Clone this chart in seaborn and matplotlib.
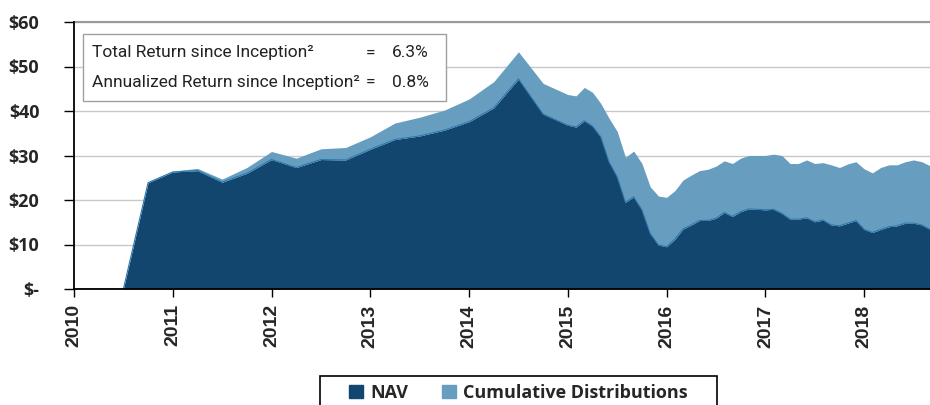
import matplotlib.pyplot as plt
import numpy as np
import pandas as pd
import seaborn as sns
from matplotlib.patches import Patch, Rectangle

# quarterly points until end of 2014, monthly afterwards
quarters = pd.date_range("2010-01-01", "2014-10-01", freq="QS")
months = pd.date_range("2015-01-01", "2018-09-01", freq="MS")
dates = quarters.append(months)

nav = [0, 0, 0, 23.9, 26.3, 26.6, 24.0, 26.0, 29.1, 27.3,
       29.1, 29.0, 31.4, 33.6, 34.4, 35.7, 37.6, 40.7, 47.2, 39.3,
       36.8, 36.4, 37.8, 36.6, 34.2, 28.6, 25.2, 19.5, 20.7, 17.8,
       12.5, 9.9, 9.5, 11.2, 13.5, 14.4, 15.4, 15.4, 15.9, 17.2,
       16.3, 17.4, 18.0, 17.9, 17.8, 17.9, 17.0, 15.7, 15.7, 16.0,
       15.1, 15.5, 14.4, 14.2, 14.8, 15.4, 13.4, 12.7, 13.4, 14.0,
       14.2, 14.8, 14.8, 14.4, 13.4]
cum_dist = [0, 0, 0, 0.1, 0.2, 0.5, 0.7, 1.3, 1.8, 2.1,
            2.4, 2.8, 2.8, 3.7, 4.2, 4.5, 5.1, 5.9, 6.1, 6.9,
            6.9, 7.0, 7.5, 7.6, 7.5, 9.8, 10.2, 10.1, 10.3, 10.4,
            10.5, 11.0, 11.1, 10.9, 11.0, 11.2, 11.2, 11.5, 11.7, 11.6,
            11.9, 12.0, 12.0, 12.1, 12.2, 12.4, 13.0, 12.5, 12.5, 13.0,
            13.1, 12.9, 13.5, 13.1, 13.3, 13.2, 13.6, 13.4, 13.9, 13.9,
            13.7, 13.8, 14.2, 14.2, 14.3]

summary_labels = ["Total Return since Inception²", "Annualized Return since Inception²"]
summary_values = ["6.3%", "0.8%"]
year_ticks = list(range(2010, 2019))
y_ticks = [0, 10, 20, 30, 40, 50, 60]
y_labels = ["$-", "$10", "$20", "$30", "$40", "$50", "$60"]

dark = "#13466f"
light = "#679dbf"

df = pd.DataFrame({"year": dates.year + (dates.month - 1) / 12,
                   "NAV": nav, "Cumulative Distributions": cum_dist})
df["total"] = df["NAV"] + df["Cumulative Distributions"]

sns.set_style("white")
plt.rcParams["font.family"] = ["Open Sans", "DejaVu Sans"]

fig = plt.figure(figsize=(9.3, 4.05), dpi=100)
ax = fig.add_axes([74 / 930, 1 - 289 / 405, 856 / 930, 267 / 405])

ax.fill_between(df["year"], 0, df["NAV"], color=dark, lw=0, zorder=2)
ax.fill_between(df["year"], df["NAV"], df["total"], color=light, lw=0, zorder=2)
sns.lineplot(data=df, x="year", y="NAV", color="#2e78ad", lw=0.8, ax=ax, zorder=3)

ax.set_xlim(2010, 2018 + 8 / 12)
ax.set_ylim(0, 60)
ax.set_xlabel("")
ax.set_ylabel("")
ax.set_yticks(y_ticks)
ax.set_yticklabels(y_labels, fontsize=13, fontweight="bold")
ax.set_xticks(year_ticks)
ax.set_xticklabels([str(y) for y in year_ticks], rotation=90, fontsize=14,
                   fontweight="bold", family="Liberation Sans")
ax.tick_params(axis="y", length=7, width=1, color="black", pad=18, direction="out", left=True)
ax.tick_params(axis="x", length=6, width=1, color="black", pad=5, direction="out", bottom=True)
ax.yaxis.grid(True, color="#c8c8c8", lw=1)
ax.set_axisbelow(True)

for s in ["left", "bottom"]:
    ax.spines[s].set_color("black")
    ax.spines[s].set_linewidth(1.3)
    ax.spines[s].set_zorder(5)
ax.spines["top"].set_color("#999999")
ax.spines["top"].set_linewidth(1.5)
ax.spines["right"].set_visible(False)

# summary box
ax.add_patch(Rectangle((0.0105, 0.704), 0.424, 0.251, transform=ax.transAxes,
                       facecolor="white", edgecolor="#a0a0a0", lw=1, zorder=6))
for i, (lab, val) in enumerate(zip(summary_labels, summary_values)):
    yy = 0.884 - i * 0.109
    kw = dict(transform=ax.transAxes, va="center", fontsize=12.5, color="#222222",
              family=["Roboto", "DejaVu Sans"], zorder=7)
    ax.text(0.021, yy, lab, ha="left", **kw)
    ax.text(0.3458, yy, "=", ha="center", **kw)
    ax.text(0.3715, yy, val, ha="left", **kw)

# legend
fig.patches.append(Rectangle((320 / 930, -0.2), 397 / 930, 0.2 + 29 / 405,
                             transform=fig.transFigure, facecolor="white",
                             edgecolor="black", lw=1.2))
handles = [Patch(facecolor=dark, edgecolor=dark), Patch(facecolor=light, edgecolor=light)]
fig.legend(handles, ["NAV", "Cumulative Distributions"], loc="center",
           bbox_to_anchor=(0.5575, 1 - 393 / 405), ncol=2, frameon=False,
           prop={"size": 13, "weight": "bold"}, handlelength=0.75, handleheight=0.75,
           handletextpad=0.4, columnspacing=1.9)

fig.savefig("out.png", dpi=100)
